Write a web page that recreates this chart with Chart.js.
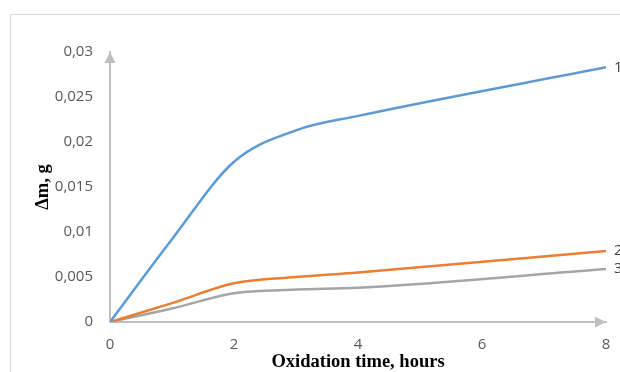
<!DOCTYPE html>
<html>
<head>
<meta charset="utf-8">
<script src="https://cdn.jsdelivr.net/npm/chart.js@4"></script>
<style>
  html, body { margin: 0; padding: 0; background: #fff; }
  #wrap { position: relative; width: 620px; height: 372px; overflow: hidden; }
  #frame { position: absolute; left: 10px; top: 14px; width: 700px; height: 500px; border: 1px solid #d9d9d9; }
  #chart { position: absolute; left: 0; top: 0; }
</style>
</head>
<body>
<div id="wrap">
  <div id="frame"></div>
  <canvas id="chart" width="620" height="372"></canvas>
</div>
<script>
// oxidation time, hours
const hours = [0, 1, 2, 3, 4, 8];
// mass gain, g
const series1 = [0, 0.0092, 0.0178, 0.0213, 0.0229, 0.0283];
const series2 = [0, 0.0021, 0.0043, 0.0050, 0.0055, 0.0079];
const series3 = [0, 0.0015, 0.0032, 0.0036, 0.0038, 0.0059];
const seriesNames = ['1', '2', '3'];
const seriesColors = ['#5b9bd5', '#ed7d31', '#a5a5a5'];

const tickFont = { family: 'Open Sans', size: 15 };
const titleFont = { family: 'Liberation Serif', size: 18.5, weight: 'bold' };
const axisColor = '#bfbfbf';

const toPoints = vals => vals.map((v, i) => ({ x: hours[i], y: v }));

// little arrows at the ends of both axes
const axisArrows = {
    id: 'axisArrows',
    afterDraw(chart) {
        const { ctx, chartArea: a } = chart;
        ctx.save();
        ctx.fillStyle = axisColor;
        ctx.beginPath();
        ctx.moveTo(a.left, a.top);
        ctx.lineTo(a.left - 5.5, a.top + 11);
        ctx.lineTo(a.left + 5.5, a.top + 11);
        ctx.closePath();
        ctx.fill();
        ctx.beginPath();
        ctx.moveTo(a.right, a.bottom);
        ctx.lineTo(a.right - 11, a.bottom - 5.5);
        ctx.lineTo(a.right - 11, a.bottom + 5.5);
        ctx.closePath();
        ctx.fill();
        ctx.restore();
    }
};

// series numbers next to the last point of each curve
const endLabels = {
    id: 'endLabels',
    afterDatasetsDraw(chart) {
        const { ctx } = chart;
        ctx.save();
        ctx.font = `${tickFont.size}px "${tickFont.family}"`;
        ctx.fillStyle = '#404040';
        ctx.textBaseline = 'middle';
        chart.data.datasets.forEach((ds, i) => {
            const pts = chart.getDatasetMeta(i).data;
            const last = pts[pts.length - 1];
            ctx.fillText(seriesNames[i], last.x + 8, last.y);
        });
        ctx.restore();
    }
};

new Chart(document.getElementById('chart').getContext('2d'), {
    type: 'line',
    data: {
        datasets: [series1, series2, series3].map((vals, i) => ({
            label: seriesNames[i],
            data: toPoints(vals),
            borderColor: seriesColors[i],
            borderWidth: 2.5,
            pointRadius: 0,
            cubicInterpolationMode: 'monotone',
            fill: false
        }))
    },
    options: {
        responsive: false,
        animation: false,
        layout: { padding: { top: 52, right: 14, left: 0, bottom: 0 } },
        plugins: { legend: { display: false }, tooltip: { enabled: false } },
        scales: {
            x: {
                type: 'linear',
                min: 0,
                max: 8,
                grid: { display: false, drawTicks: false },
                border: { color: axisColor, width: 2 },
                ticks: {
                    stepSize: 2,
                    padding: 14,
                    color: '#595959',
                    font: tickFont
                },
                title: {
                    display: true,
                    text: 'Oxidation time, hours',
                    color: '#000',
                    font: titleFont,
                    padding: { top: 0, bottom: -1 }
                },
                afterFit(s) {
                    s.height = 50;
                    s.paddingRight = 0;
                }
            },
            y: {
                min: 0,
                max: 0.03,
                grid: { display: false, drawTicks: false },
                border: { color: axisColor, width: 2 },
                ticks: {
                    stepSize: 0.005,
                    padding: 17,
                    color: '#595959',
                    font: tickFont,
                    callback: v => String(+v.toFixed(3)).replace('.', ',')
                },
                title: {
                    display: true,
                    text: 'Δm, g',
                    color: '#000',
                    font: titleFont,
                    padding: { top: 32, bottom: 0 }
                },
                afterFit(s) { s.width = 110; }
            }
        }
    },
    plugins: [axisArrows, endLabels]
});
</script>
</body>
</html>
